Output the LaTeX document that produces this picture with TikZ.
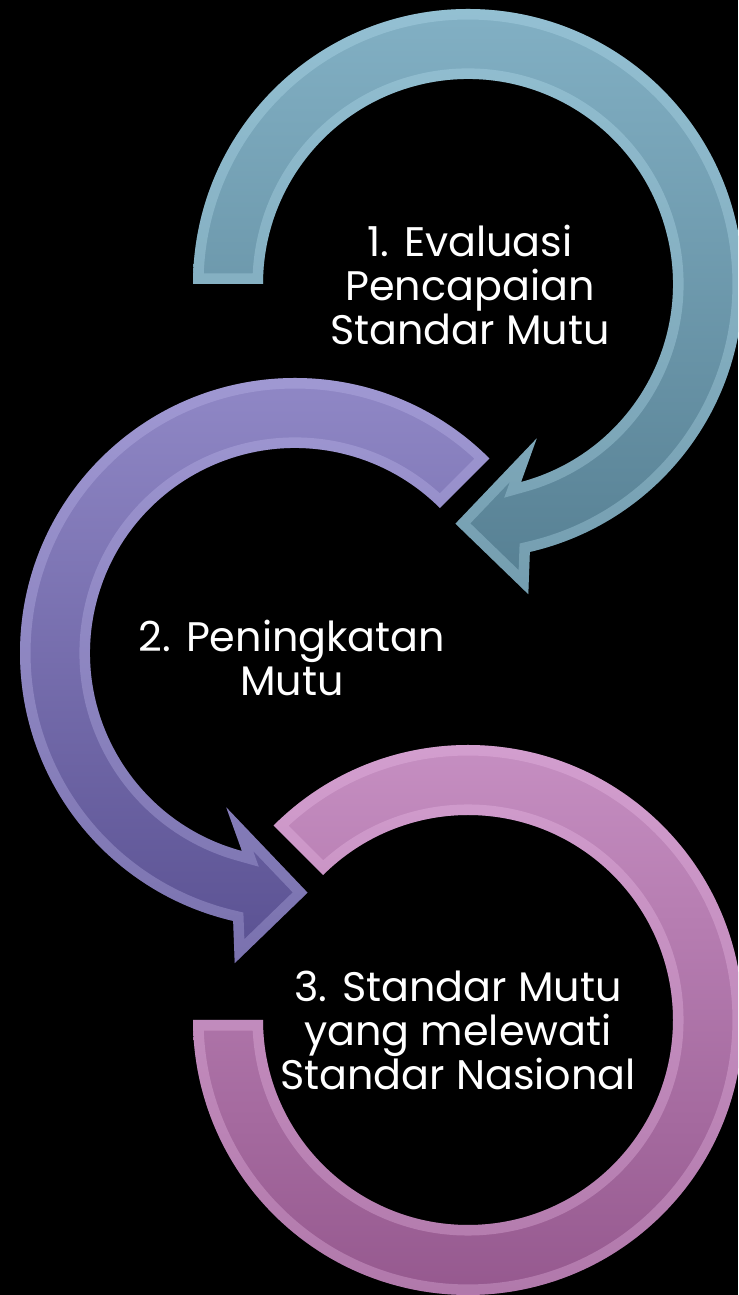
\documentclass[tikz,border=0pt]{standalone}
\usepackage{fontspec}
\setmainfont{Poppins}
\usepackage{tikz}

\definecolor{evaltop}{HTML}{82B0C4}
\definecolor{evalbot}{HTML}{567F92}
\definecolor{evaledge}{HTML}{BDE6F5}
\definecolor{tingkattop}{HTML}{928AC8}
\definecolor{tingkatbot}{HTML}{5A5192}
\definecolor{tingkatedge}{HTML}{C6C0F2}
\definecolor{nasionaltop}{HTML}{C891C4}
\definecolor{nasionalbot}{HTML}{93568C}
\definecolor{nasionaledge}{HTML}{F2C4EE}

% outlines of the three circular arrows (polar, around their own centre)
\newcommand{\evalshape}{(180:275) arc[start angle=180, end angle=-77, radius=275]
  -- (-79:316) -- (-93:240) -- (-66:169) -- (-75:205)
  arc[start angle=-75, end angle=180, radius=205] -- cycle}
\newcommand{\tingkatshape}{(45:275) arc[start angle=45, end angle=257, radius=275]
  -- (259:316) -- (273:240) -- (246:169) -- (255:205)
  arc[start angle=255, end angle=45, radius=205] -- cycle}
\newcommand{\nasionalshape}{(135:275) arc[start angle=135, end angle=-180, radius=275]
  -- (-180:205) arc[start angle=-180, end angle=135, radius=205] -- cycle}

\begin{document}
\begin{tikzpicture}[x=0.02cm, y=0.02cm,
  steptext/.style={text=white, align=center, inner sep=0pt,
    font=\fontsize{23.5}{25}\selectfont},
  bevel/.style={draw=#1, line width=12, opacity=0.3}]

\fill[black] (0,0) rectangle (738,1295);
\useasboundingbox (0,0) rectangle (738,1295);
\clip (0,0) rectangle (738,1295);

% arrow 1
\begin{scope}[shift={(468,1011)}]
\clip \evalshape;
\shade[top color=evaltop, bottom color=evalbot] \evalshape;
\draw[bevel=evaledge] \evalshape;
\end{scope}

% arrow 2
\begin{scope}[shift={(295,642)}]
\clip \tingkatshape;
\shade[top color=tingkattop, bottom color=tingkatbot] \tingkatshape;
\draw[bevel=tingkatedge] \tingkatshape;
\end{scope}

% arrow 3
\begin{scope}[shift={(468,275)}]
\clip \nasionalshape;
\shade[top color=nasionaltop, bottom color=nasionalbot] \nasionalshape;
\draw[bevel=nasionaledge] \nasionalshape;
\end{scope}

\node[steptext] (evaluasi) at (470,1010) {1. Evaluasi\\Pencapaian\\Standar Mutu};
\node[steptext] (peningkatan) at (292,637) {2. Peningkatan\\Mutu};
\node[steptext] (nasional) at (458,265) {3. Standar Mutu\\yang melewati\\Standar Nasional};

\end{tikzpicture}
\end{document}
